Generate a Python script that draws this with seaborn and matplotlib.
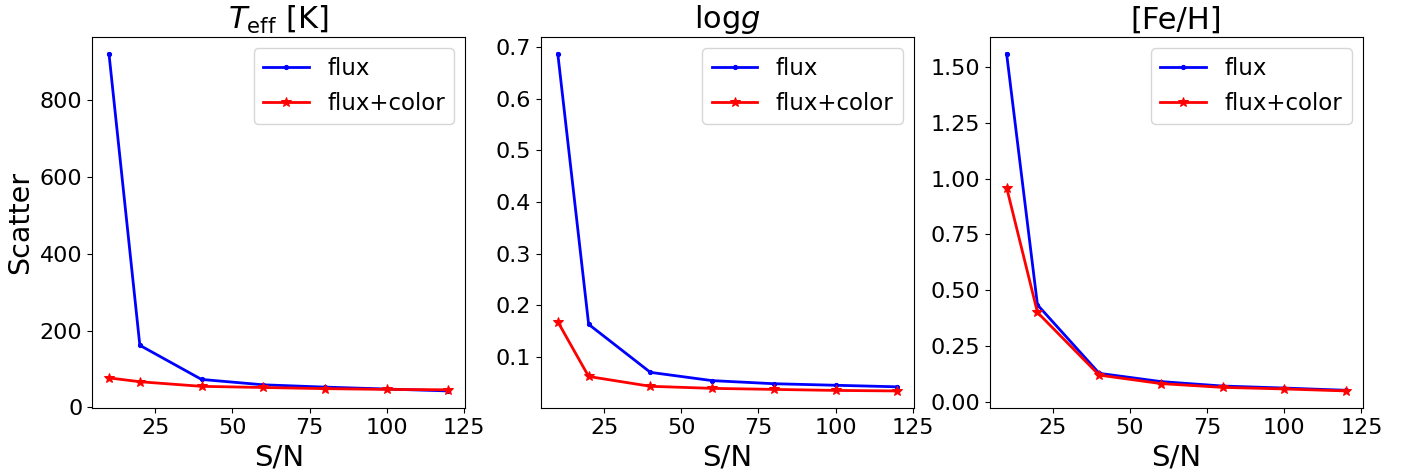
import matplotlib
matplotlib.use('Agg')

import matplotlib.pyplot as plt
import numpy as np
import pandas as pd
import seaborn as sns

# S/N grid
snr = [10, 20, 40, 60, 80, 100, 120]

# Teff scatter [K]
teff_flux = [922, 162, 73, 59, 53, 48, 43]
teff_flux_color = [77, 67, 55, 52, 49, 47, 46]

# logg scatter
logg_flux = [0.687, 0.163, 0.070, 0.054, 0.048, 0.045, 0.042]
logg_flux_color = [0.168, 0.062, 0.043, 0.039, 0.037, 0.035, 0.034]

# [Fe/H] scatter
feh_flux = [1.56, 0.434, 0.127, 0.090, 0.070, 0.061, 0.051]
feh_flux_color = [0.96, 0.40, 0.119, 0.081, 0.064, 0.057, 0.048]

titles = [r'$T_{\rm eff}$ [K]', r'log$g$', '[Fe/H]']
series = [(teff_flux, teff_flux_color),
          (logg_flux, logg_flux_color),
          (feh_flux, feh_flux_color)]

fig, axes = plt.subplots(1, 3, figsize=(14.11, 4.72), dpi=100)
fig.subplots_adjust(left=0.0652, right=0.966, top=0.922, bottom=0.136, wspace=0.202)

for ax, title, (f, fc) in zip(axes, titles, series):
    df = pd.DataFrame({'snr': snr, 'flux': f, 'flux_color': fc})
    sns.lineplot(data=df, x='snr', y='flux', ax=ax, color='blue', marker='.',
                 markersize=6, markeredgecolor='blue', linewidth=2, label='flux')
    sns.lineplot(data=df, x='snr', y='flux_color', ax=ax, color='red', marker='*',
                 markersize=7, markeredgecolor='red', linewidth=2, label='flux+color')
    ax.set_title(title, fontsize=22)
    ax.set_xlabel('S/N', fontsize=21)
    ax.set_ylabel('')
    ax.tick_params(labelsize=16)
    ax.set_xticks([25, 50, 75, 100, 125])
    ax.legend(loc='upper right', fontsize=16.5)

axes[0].set_ylabel('Scatter', fontsize=20.5)

plt.savefig('out.png', dpi=100)
plt.close()
